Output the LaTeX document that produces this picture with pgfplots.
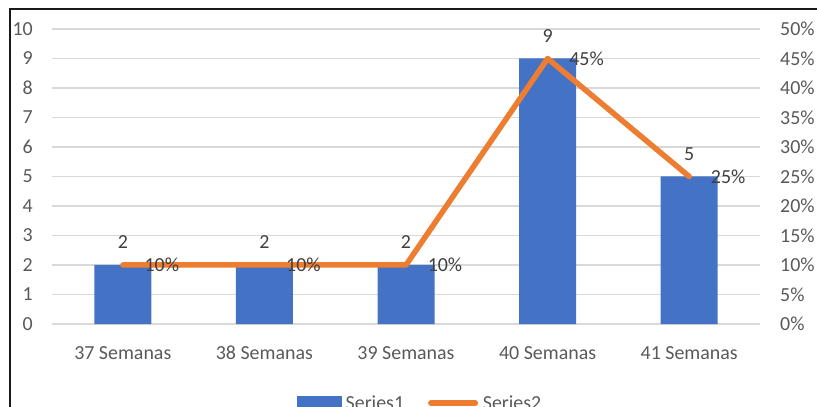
\documentclass[border=0pt]{standalone}
\usepackage{pgfplots}
\pgfplotsset{compat=1.18}
\usepackage{fontspec}
\setmainfont{Carlito}
\definecolor{barblue}{HTML}{4472C4}
\definecolor{lineorange}{HTML}{ED7D31}
\definecolor{tickgray}{HTML}{595959}
\definecolor{labelgray}{HTML}{404040}
\definecolor{gridgray}{HTML}{D9D9D9}
\pgfplotsset{/pgf/number format/assume math mode=true}

\begin{document}
\begin{tikzpicture}[font=\fontsize{20}{24}\selectfont]
\useasboundingbox (0,0) rectangle (817bp,407bp);
\clip (0,0) rectangle (817bp,407bp);
% chart frame
\draw[line width=2bp, black!90] (10bp,-10bp) -- (10bp,398bp) -- (830bp,398bp);

% counts (left axis)
\begin{axis}[
  at={(52bp,83bp)}, anchor=south west,
  scale only axis, width=708bp, height=295bp,
  xmin=-0.5, xmax=4.5, ymin=0, ymax=10,
  xtick={0,...,4},
  xticklabels={37 Semanas,38 Semanas,39 Semanas,40 Semanas,41 Semanas},
  ytick={0,...,10},
  ymajorgrids, grid style={gridgray, line width=1.3bp},
  axis x line*=bottom, axis y line*=left,
  x axis line style={gridgray, line width=1.3bp, -},
  y axis line style={draw=none},
  major tick length=0pt,
  tick label style={text=tickgray},
  xticklabel style={inner sep=0pt, anchor=north, yshift=-22bp},
  yticklabel style={inner sep=0pt, anchor=east, xshift=-19bp},
  clip=false,
]
\addplot[ybar, bar width=57bp, fill=barblue, draw=none,
  nodes near coords,
  every node near coord/.append style={anchor=south, inner sep=0pt, yshift=16bp, text=labelgray}]
  coordinates {(0,2) (1,2) (2,2) (3,9) (4,5)};
\end{axis}

% percentages (right axis)
\begin{axis}[
  at={(52bp,83bp)}, anchor=south west,
  scale only axis, width=708bp, height=295bp,
  xmin=-0.5, xmax=4.5, ymin=0, ymax=50,
  ytick={0,5,...,50},
  yticklabel={\pgfmathprintnumber{\tick}\%},
  axis y line*=right, hide x axis,
  y axis line style={draw=none},
  major tick length=0pt,
  yticklabel style={inner sep=0pt, anchor=west, xshift=20bp, text=tickgray},
  clip=false,
  legend cell align=left,
  legend style={at={(0.342,-0.268)}, anchor=west, draw=none, fill=none,
    legend columns=2, text=tickgray, nodes={inner sep=0pt},
    /tikz/every even column/.append style={column sep=24bp}},
]
\addlegendimage{legend image code/.code={\fill[barblue] (0bp,-7bp) rectangle (44bp,7bp); \path (48bp,0bp);}}
\addlegendentry{Series1}
\addplot[lineorange, line width=5.5bp, line cap=round, line join=round, mark=none,
  nodes near coords={\pgfmathprintnumber{\pgfplotspointmeta}\%},
  every node near coord/.append style={anchor=west, inner sep=0pt, xshift=19bp, text=labelgray},
  legend image code/.code={\draw[lineorange, line width=5.5bp, line cap=round] (2.75bp,0bp) -- (47.25bp,0bp); \path (52bp,0bp);}]
  coordinates {(0,10) (1,10) (2,10) (3,45) (4,25)};
\addlegendentry{Series2}
\end{axis}
\end{tikzpicture}
\end{document}
